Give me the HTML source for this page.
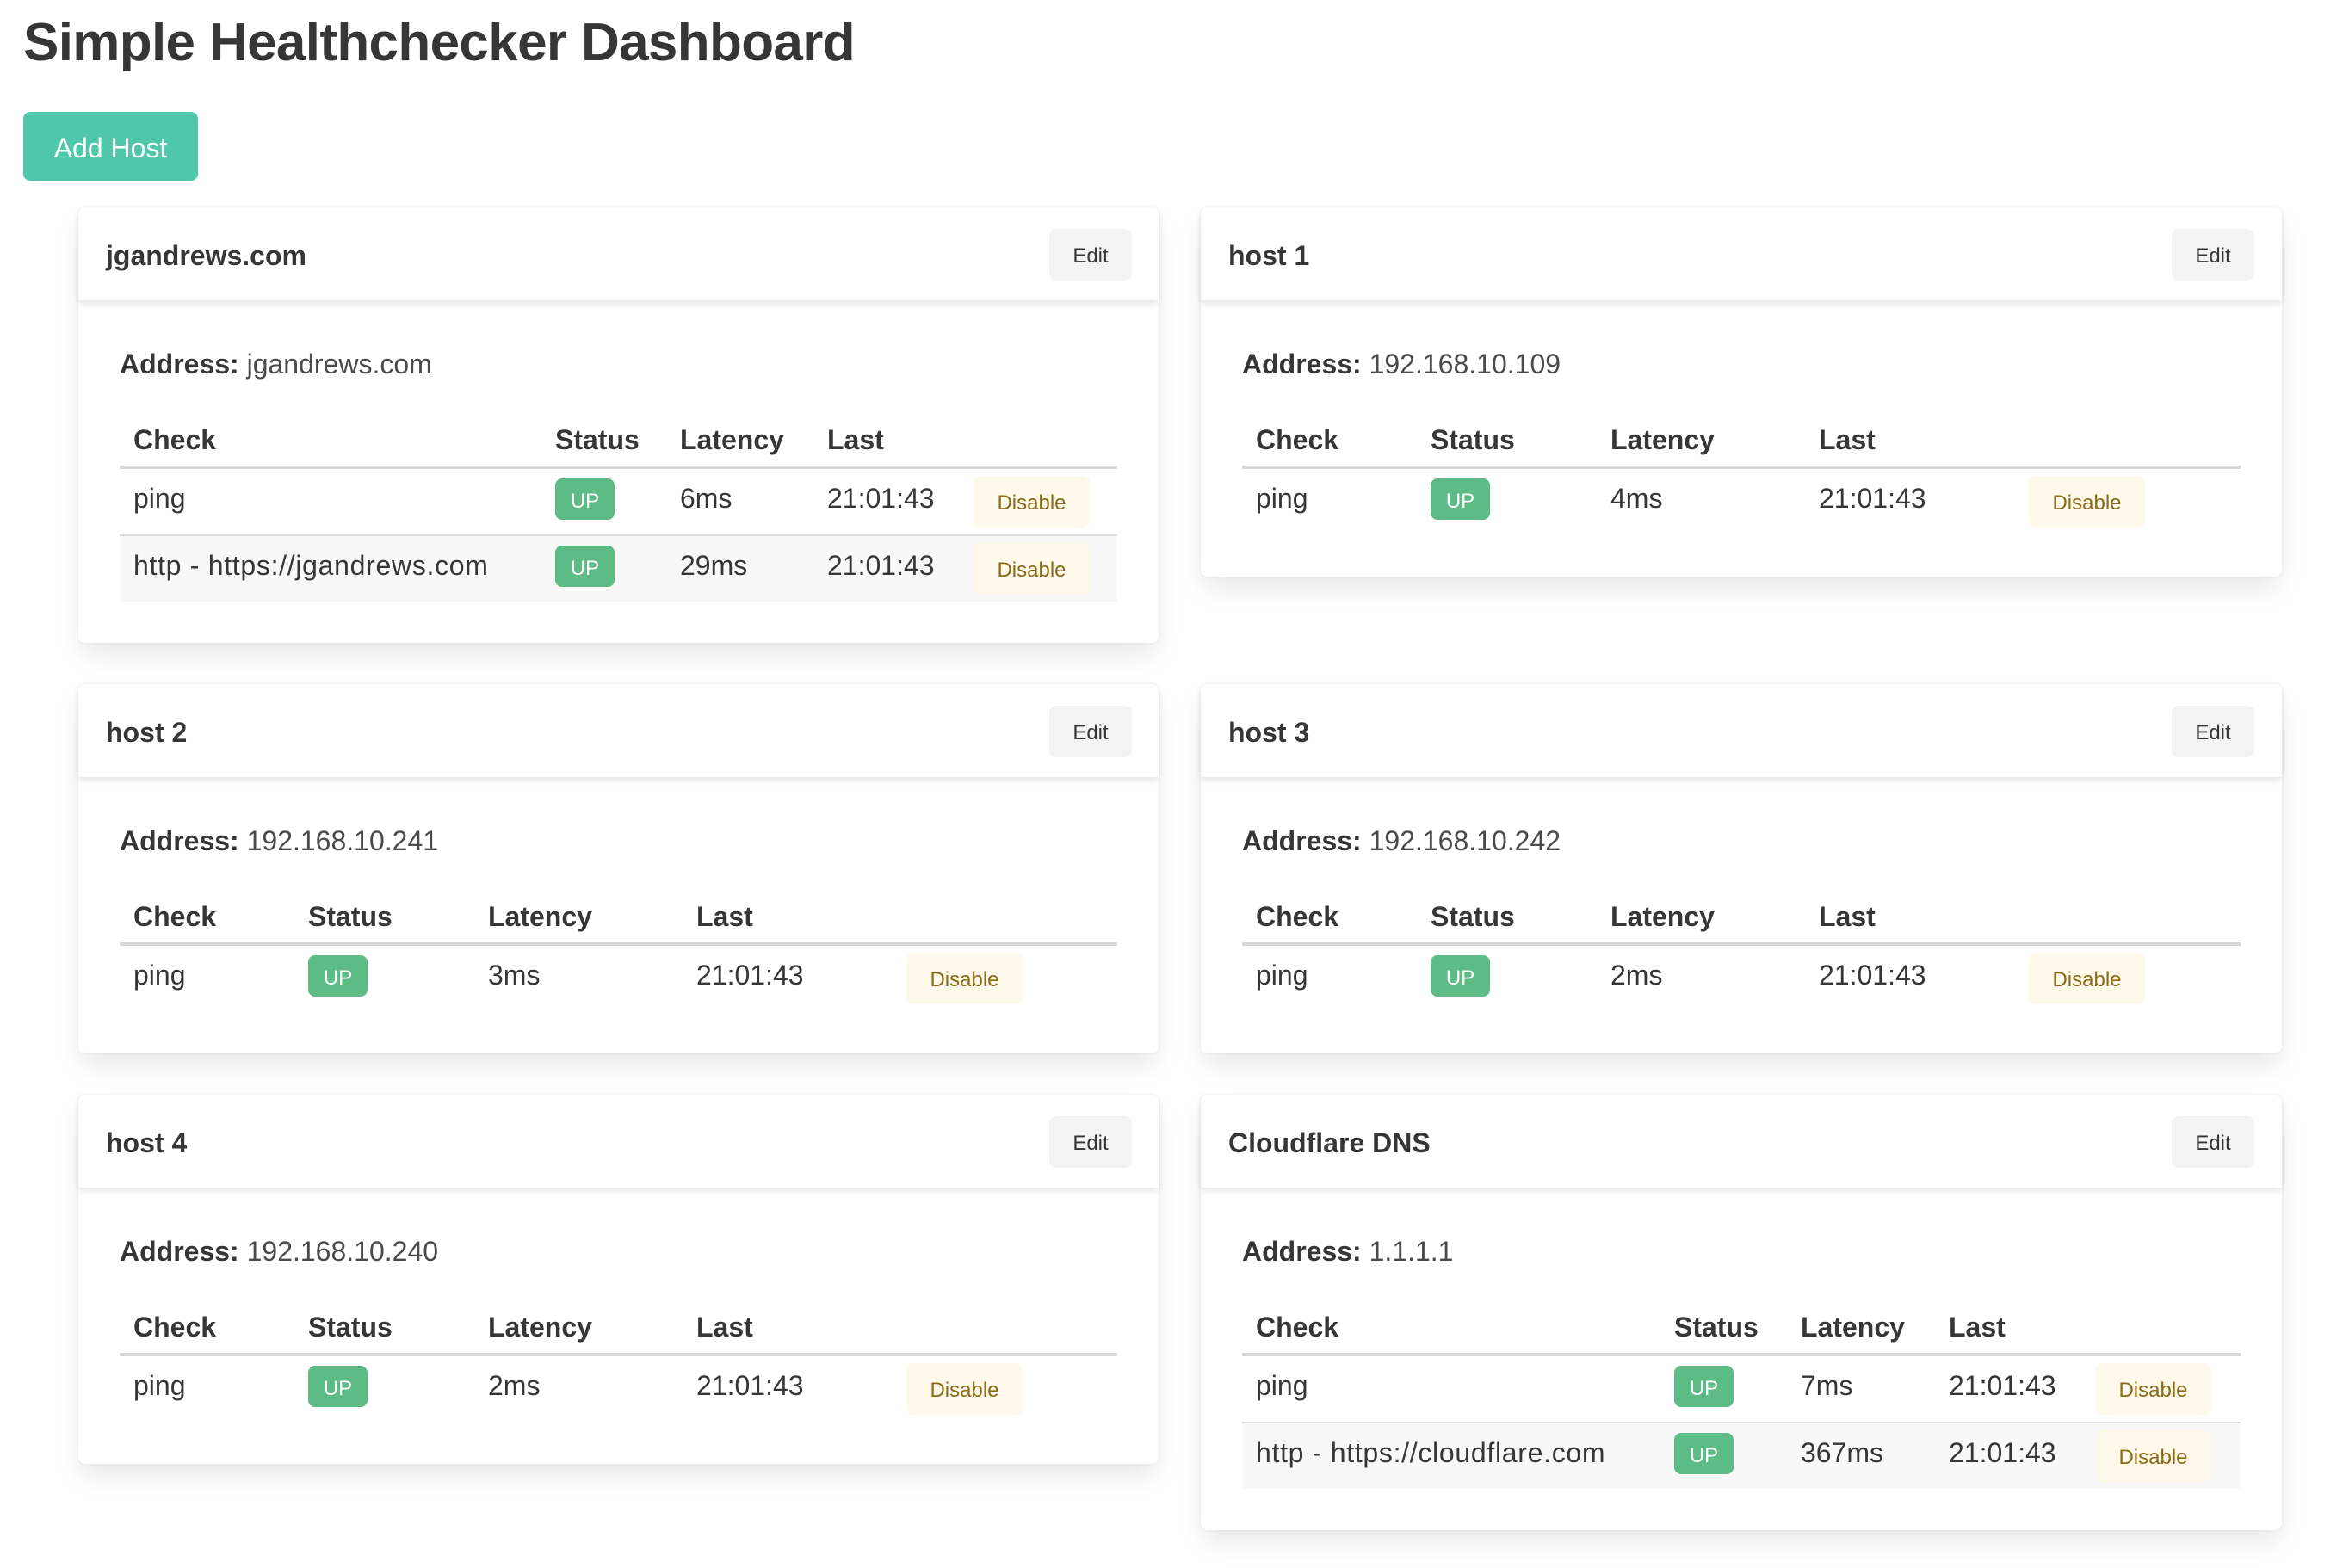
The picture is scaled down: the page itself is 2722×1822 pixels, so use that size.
<!DOCTYPE html>
<html>
<head>
<meta charset="utf-8">
<style>
  html, body { margin:0; padding:0; background:#fff; }
  body { width:2722px; height:1822px; position:relative; overflow:hidden;
         font-family:"Liberation Sans", Arial, sans-serif; color:#4a4a4a; font-size:32px; }
  h1 { position:absolute; left:27px; top:19px; margin:0; font-size:62px; line-height:62px;
       font-weight:700; color:#363636; letter-spacing:-0.65px; white-space:nowrap; }
  .add { position:absolute; left:27px; top:130px; width:203px; height:80px; background:#4ec7aa;
         border-radius:8px; color:#fff; font-size:32px; line-height:84px; text-align:center; overflow:hidden; }
  .card { position:absolute; background:#fff; border-radius:8px; width:1255px;
          box-shadow:0 16px 32px -4px rgba(10,10,10,.1), 0 0 0 2px rgba(10,10,10,.02); }
  .hdr { position:relative; height:108px; box-shadow:0 4px 8px rgba(10,10,10,.1); border-radius:8px 8px 0 0; }
  .hdr .t { position:absolute; left:32px; top:32px; font-weight:700; font-size:32px; line-height:48px; color:#363636; white-space:nowrap; }
  .edit { position:absolute; right:31px; top:25px; width:96px; height:60px; background:#f3f3f3;
          border-radius:8px; font-size:24px; line-height:64px; text-align:center; color:#363636; overflow:hidden; }
  .cc { padding:48px; }
  .addr { position:relative; top:2px; margin:0 0 32px 0; line-height:48px; font-size:32px; color:#4a4a4a; white-space:nowrap; }
  .addr b { color:#363636; font-weight:700; }
  table { border-collapse:collapse; table-layout:fixed; width:100%; color:#363636; }
  th, td { padding:10px 16px 6px 16px; text-align:left; vertical-align:top; line-height:48px; font-size:32px; white-space:nowrap; }
  th { font-weight:700; border-bottom:4px solid #d8d8d8; }
  td { border-bottom:2px solid #dbdbdb; }
  tr:last-child td { border-bottom:0; }
  tr.alt td { background:#f8f8f8; }
  .wide { letter-spacing:0.7px; }
  .tag { display:block; margin-top:1px; width:69px; height:48px; line-height:53px; text-align:center; overflow:hidden;
         background:#5dbb86; color:#fff; font-size:24px; border-radius:8px; }
  .dis { display:block; margin-top:-2px; margin-bottom:2px; width:135px; height:60px; line-height:64px; text-align:center; overflow:hidden;
         background:#fef9ea; color:#8a6a14; font-size:24px; border-radius:8px; }
</style>
</head>
<body>
<h1>Simple Healthchecker Dashboard</h1>
<div class="add">Add Host</div>

<!-- Card A -->
<div class="card" style="left:91px; top:241px; height:506px;">
  <div class="hdr"><div class="t">jgandrews.com</div><div class="edit">Edit</div></div>
  <div class="cc">
    <p class="addr"><b>Address:</b> jgandrews.com</p>
    <table>
      <colgroup><col style="width:490px"><col style="width:145px"><col style="width:171px"><col style="width:170px"><col></colgroup>
      <tr><th>Check</th><th>Status</th><th>Latency</th><th>Last</th><th></th></tr>
      <tr><td>ping</td><td><span class="tag">UP</span></td><td>6ms</td><td>21:01:43</td><td><span class="dis">Disable</span></td></tr>
      <tr class="alt"><td class="wide">http - https://jgandrews.com</td><td><span class="tag">UP</span></td><td>29ms</td><td>21:01:43</td><td><span class="dis">Disable</span></td></tr>
    </table>
  </div>
</div>

<!-- Card B -->
<div class="card" style="left:1395px; top:241px; height:429px; width:1256px;">
  <div class="hdr"><div class="t">host 1</div><div class="edit" style="right:32px">Edit</div></div>
  <div class="cc">
    <p class="addr"><b>Address:</b> 192.168.10.109</p>
    <table>
      <colgroup><col style="width:203px"><col style="width:209px"><col style="width:242px"><col style="width:244px"><col></colgroup>
      <tr><th>Check</th><th>Status</th><th>Latency</th><th>Last</th><th></th></tr>
      <tr><td>ping</td><td><span class="tag">UP</span></td><td>4ms</td><td>21:01:43</td><td><span class="dis">Disable</span></td></tr>
    </table>
  </div>
</div>

<!-- Card C -->
<div class="card" style="left:91px; top:795px; height:429px;">
  <div class="hdr"><div class="t">host 2</div><div class="edit">Edit</div></div>
  <div class="cc">
    <p class="addr"><b>Address:</b> 192.168.10.241</p>
    <table>
      <colgroup><col style="width:203px"><col style="width:209px"><col style="width:242px"><col style="width:244px"><col></colgroup>
      <tr><th>Check</th><th>Status</th><th>Latency</th><th>Last</th><th></th></tr>
      <tr><td>ping</td><td><span class="tag">UP</span></td><td>3ms</td><td>21:01:43</td><td><span class="dis">Disable</span></td></tr>
    </table>
  </div>
</div>

<!-- Card D -->
<div class="card" style="left:1395px; top:795px; height:429px; width:1256px;">
  <div class="hdr"><div class="t">host 3</div><div class="edit" style="right:32px">Edit</div></div>
  <div class="cc">
    <p class="addr"><b>Address:</b> 192.168.10.242</p>
    <table>
      <colgroup><col style="width:203px"><col style="width:209px"><col style="width:242px"><col style="width:244px"><col></colgroup>
      <tr><th>Check</th><th>Status</th><th>Latency</th><th>Last</th><th></th></tr>
      <tr><td>ping</td><td><span class="tag">UP</span></td><td>2ms</td><td>21:01:43</td><td><span class="dis">Disable</span></td></tr>
    </table>
  </div>
</div>

<!-- Card E -->
<div class="card" style="left:91px; top:1272px; height:429px;">
  <div class="hdr"><div class="t">host 4</div><div class="edit">Edit</div></div>
  <div class="cc">
    <p class="addr"><b>Address:</b> 192.168.10.240</p>
    <table>
      <colgroup><col style="width:203px"><col style="width:209px"><col style="width:242px"><col style="width:244px"><col></colgroup>
      <tr><th>Check</th><th>Status</th><th>Latency</th><th>Last</th><th></th></tr>
      <tr><td>ping</td><td><span class="tag">UP</span></td><td>2ms</td><td>21:01:43</td><td><span class="dis">Disable</span></td></tr>
    </table>
  </div>
</div>

<!-- Card F -->
<div class="card" style="left:1395px; top:1272px; height:506px; width:1256px;">
  <div class="hdr"><div class="t">Cloudflare DNS</div><div class="edit" style="right:32px">Edit</div></div>
  <div class="cc">
    <p class="addr"><b>Address:</b> 1.1.1.1</p>
    <table>
      <colgroup><col style="width:486px"><col style="width:147px"><col style="width:172px"><col style="width:170px"><col></colgroup>
      <tr><th>Check</th><th>Status</th><th>Latency</th><th>Last</th><th></th></tr>
      <tr><td>ping</td><td><span class="tag">UP</span></td><td>7ms</td><td>21:01:43</td><td><span class="dis">Disable</span></td></tr>
      <tr class="alt"><td class="wide">http - https://cloudflare.com</td><td><span class="tag">UP</span></td><td>367ms</td><td>21:01:43</td><td><span class="dis">Disable</span></td></tr>
    </table>
  </div>
</div>
</body>
</html>
